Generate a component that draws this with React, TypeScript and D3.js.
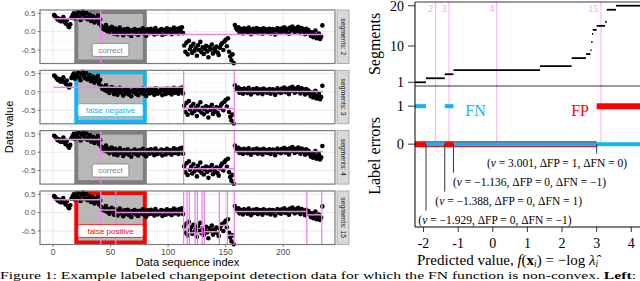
import * as d3 from "d3";

// observed data (same sequence in every facet), index 1..234
const dataValues = [
  0.45, 0.42, 0.38, 0.33, 0.36, 0.30, 0.28, 0.34, 0.40, 0.27,
  0.22, 0.31, 0.17, 0.12, 0.20, 0.38, 0.44, 0.50, 0.36, 0.41,
  0.47, 0.53, 0.39, 0.32, 0.49, 0.55, 0.43, 0.37, 0.51, 0.34,
  0.40, 0.46, 0.29, 0.35, 0.42, 0.25, 0.38, 0.31, 0.44, 0.22,
  0.33,
  0.15, 0.08, 0.12, 0.05, 0.18, 0.02, 0.10, -0.03, 0.07, 0.13,
  0.04, -0.06, 0.09, 0.01, -0.08, 0.05, 0.11, -0.02, 0.03, -0.10,
  0.06, -0.04, 0.00, 0.08, -0.07, 0.02, -0.12, 0.04, -0.01, 0.07,
  -0.05, 0.03, -0.09, 0.05, 0.01, -0.03, 0.09, -0.06, 0.02, -0.11,
  0.06, 0.00, -0.04, 0.08, -0.02, 0.04, -0.08, 0.10, 0.01, -0.05,
  0.03, -0.01, 0.07, -0.09, 0.05, 0.02, -0.06, 0.09, 0.00, -0.03,
  0.06, -0.07, 0.04, 0.11, -0.02, 0.08, 0.01, -0.05, 0.10, 0.03,
  0.12, -0.04,
  -0.38, -0.55, -0.30, -0.62, -0.25, -0.48, -0.40, -0.58, -0.33, -0.52,
  -0.45, -0.66, -0.37, -0.50, -0.28, -0.56, -0.43, -0.61, -0.47, -0.39,
  -0.54, -0.70, -0.42, -0.49, -0.35, -0.60, -0.46, -0.53, -0.41, -0.57,
  -0.64, -0.44, -0.36, -0.31, -0.50, -0.27, -0.22, -0.40, -0.18, -0.55,
  -0.68, -0.78, -0.62, -0.86,
  0.18, 0.10, 0.05, 0.12, -0.02, 0.08, 0.03, -0.05, 0.09, 0.01,
  0.06, -0.03, 0.11, 0.04, -0.07, 0.02, 0.08, -0.01, 0.05, 0.10,
  -0.04, 0.03, 0.07, 0.00, -0.06, 0.09, 0.02, 0.06, -0.02, 0.04,
  0.08, -0.05, 0.01, 0.07, 0.03, -0.08, 0.05, 0.10, 0.00, 0.06,
  -0.03, 0.09, 0.02, 0.12, -0.01, 0.04, 0.08, -0.06, 0.11, 0.03,
  0.14, 0.06, -0.02, 0.09, 0.01, 0.13, 0.05, -0.04, 0.10, 0.07,
  0.02, -0.07, 0.08, -0.03, 0.04,
  -0.05, -0.12, -0.02, -0.15, -0.08, 0.03, -0.18, -0.10, -0.05, -0.20, -0.14, 0.17,
];

// facets: model size, segment ends and segment means
const facetSegments = [2, 3, 4, 15];
const segmentEnds = [
  [41, 234],
  [113, 157, 234],
  [41, 113, 157, 234],
  [41, 54, 113, 116, 118, 123, 125, 129, 131, 144, 151, 157, 220, 233, 234],
];
const segmentMeans = [
  [0.35, -0.08],
  [0.13, -0.45, 0.01],
  [0.35, 0.02, -0.45, 0.02],
  [0.35, 0.07, 0.0, -0.45, -0.35, -0.55, -0.3, -0.55, -0.4, -0.52, -0.35, -0.62, 0.03, -0.06, 0.17],
];
const labelStatus = ["correct", "false negative", "correct", "false positive"];
const labelStart = 18.5;
const labelEnd = 81.5;
const xTicksLeft = [0, 50, 100, 150, 200];
const yTicksLeft = [0.5, 0, -0.5];

// right side: number of segments selected vs predicted value
const stepMin = [-2.247, -1.929, -1.388, -1.136, 1.363, 2.279, 2.692, 2.82, 2.845, 2.865, 2.886, 3.001, 3.241, 3.29, 3.559];
const stepMax = [-1.929, -1.388, -1.136, 1.363, 2.279, 2.692, 2.82, 2.845, 2.865, 2.886, 3.001, 3.241, 3.29, 3.559, 4.252];
const stepSegments = [1, 2, 3, 4, 5, 7, 8, 9, 11, 13, 14, 15, 16, 19, 20];

const fnMin = [-2.247, -1.929, -1.388, -1.136];
const fnMax = [-1.929, -1.388, -1.136, 4.252];
const fnValue = [1, 0, 1, 0];
const fpMin = [-2.247, 3.001];
const fpMax = [3.001, 4.252];
const fpValue = [0, 1];

const modelLinePos = [-1.65, -1.265, 0.113, 3.125];
const modelLineLabel = ["2", "3", "4", "15"];

const annV = [3.001, -1.136, -1.388, -1.929];
const annDFP = [1, 0, 0, 0];
const annDFN = [0, -1, 1, -1];
const annLabelX = [-0.17, -1.15, -1.66, -2.15];
const annLabelY = [-0.5, -1, -1.5, -2];

const xTicksRight = [-2, -1, 0, 1, 2, 3, 4];

const statusColor: Record<string, string> = {
  correct: "#7f7f7f",
  "false negative": "#12B5F2",
  "false positive": "#FF0000",
};
const VIOLET = "#EE82EE";
const FN_BLUE = "#12B5F2";
const SANS = "'Liberation Sans', Arial, sans-serif";
const SERIF = "'Liberation Serif', 'Times New Roman', serif";

const fmt = (n: number, d = 0) => (n < 0 ? "\u2212" : "") + Math.abs(n).toFixed(d);

export default function App() {
  const W = 640;
  const H = 281;

  // left facets
  const panelH = 53.5;
  const panelTops = [10, 70.3, 130.6, 191];
  const x = d3.scaleLinear().domain([-11.3, 245]).range([40, 335]);
  const y = d3.scaleLinear().domain([-0.87, 0.59]).range([panelH, 0]);

  // right panels
  const xr = d3.scaleLinear().domain([-2.247, 4.252]).range([415, 640]);
  const ys = d3.scaleLinear().domain([0.08, 20.92]).range([86, 2]);
  const ye = d3.scaleLinear().domain([-2.18, 1.53]).range([227, 86]);

  const points = dataValues.map((v, i) => ({ i: i + 1, v }));

  return (
    <svg width={W} height={H} style={{ position: "absolute", left: 0, top: 0 }}>
      <rect width={W} height={H} fill="#fff" />

      {panelTops.map((top, p) => {
        const ends = segmentEnds[p];
        const means = segmentMeans[p];
        const col = statusColor[labelStatus[p]];
        const lx0 = x(labelStart);
        const lx1 = x(labelEnd);
        const labelW = labelStatus[p].length * 4.1 + 8;
        return (
          <g key={p} transform={`translate(0,${top})`}>
            <rect x={40} y={0} width={295} height={panelH} fill="#fff" />
            {[25, 75, 125, 175, 225].map((t) => (
              <line key={"mx" + t} x1={x(t)} x2={x(t)} y1={0} y2={panelH} stroke="#f2f2f2" strokeWidth={0.5} />
            ))}
            {[0.25, -0.25, -0.75].map((t) => (
              <line key={"my" + t} x1={40} x2={335} y1={y(t)} y2={y(t)} stroke="#f2f2f2" strokeWidth={0.5} />
            ))}
            {xTicksLeft.map((t) => (
              <line key={"gx" + t} x1={x(t)} x2={x(t)} y1={0} y2={panelH} stroke="#e6e6e6" strokeWidth={0.9} />
            ))}
            {yTicksLeft.map((t) => (
              <line key={"gy" + t} x1={40} x2={335} y1={y(t)} y2={y(t)} stroke="#e6e6e6" strokeWidth={0.9} />
            ))}
            <rect
              x={lx0 + 2}
              y={2}
              width={lx1 - lx0 - 4}
              height={panelH - 4}
              fill="#b8b8b8"
              stroke={col}
              strokeWidth={4}
            />
            {points.map((d) => (
              <circle key={d.i} cx={x(d.i)} cy={y(d.v)} r={2.3} fill="#000" />
            ))}
            {ends.map((e, k) => {
              const s = k === 0 ? 0.5 : ends[k - 1] + 0.5;
              return (
                <line key={"s" + k} x1={x(s)} x2={x(e + 0.5)} y1={y(means[k])} y2={y(means[k])} stroke={VIOLET} strokeWidth={1.5} />
              );
            })}
            {ends.slice(0, -1).map((e) => (
              <line key={"c" + e} x1={x(e + 0.5)} x2={x(e + 0.5)} y1={0} y2={panelH} stroke={VIOLET} strokeWidth={1.3} />
            ))}
            <g transform={`translate(${(lx0 + lx1) / 2},${y(-0.5)})`}>
              <rect x={-labelW / 2} y={-6.5} width={labelW} height={13} rx={2} fill="#fff" stroke={col} strokeWidth={0.8} />
              <text textAnchor="middle" dy="0.35em" fontFamily={SANS} fontSize={8} fill={col}>
                {labelStatus[p]}
              </text>
            </g>
            <rect x={40} y={0} width={295} height={panelH} fill="none" stroke="#7a7a7a" strokeWidth={1.2} />
            {yTicksLeft.map((t) => (
              <g key={"ty" + t}>
                <line x1={37.5} x2={40} y1={y(t)} y2={y(t)} stroke="#333" strokeWidth={0.6} />
                <text x={35.5} y={y(t)} dy="0.35em" textAnchor="end" fontFamily={SANS} fontSize={8} fill="#4d4d4d">
                  {t.toFixed(1)}
                </text>
              </g>
            ))}
            <rect x={337} y={0} width={12} height={panelH} fill="#d9d9d9" stroke="#9e9e9e" strokeWidth={0.8} />
            <text
              transform={`translate(343,${panelH / 2}) rotate(90)`}
              textAnchor="middle"
              dy="0.35em"
              fontFamily={SANS}
              fontSize={6.8}
              fill="#1a1a1a"
            >
              {`segments: ${facetSegments[p]}`}
            </text>
          </g>
        );
      })}

      {xTicksLeft.map((t) => (
        <g key={"tx" + t}>
          <line x1={x(t)} x2={x(t)} y1={244.5} y2={247} stroke="#333" strokeWidth={0.6} />
          <text x={x(t)} y={255} textAnchor="middle" fontFamily={SANS} fontSize={8.5} fill="#4d4d4d">
            {t}
          </text>
        </g>
      ))}
      <text x={187.5} y={266} textAnchor="middle" fontFamily={SANS} fontSize={11} fill="#000">
        Data sequence index
      </text>
      <text transform="translate(13,127) rotate(-90)" textAnchor="middle" fontFamily={SANS} fontSize={11} fill="#000">
        Data value
      </text>

      {/* right: model selection lines */}
      {modelLinePos.map((v, k) => (
        <g key={"ml" + k}>
          <line x1={xr(v)} x2={xr(v)} y1={2} y2={ye(0)} stroke={VIOLET} strokeOpacity={0.65} strokeWidth={1} />
          <text x={xr(v) - 2.5} y={12} textAnchor="end" fontFamily={SERIF} fontSize={10.5} fill={VIOLET} fillOpacity={0.75}>
            {modelLineLabel[k]}
          </text>
        </g>
      ))}

      {/* segments step function */}
      {stepSegments.map((s, k) => (
        <line
          key={"st" + k}
          x1={xr(stepMin[k])}
          x2={Math.max(xr(stepMax[k]), xr(stepMin[k]) + 1.2)}
          y1={ys(s)}
          y2={ys(s)}
          stroke="#000"
          strokeWidth={1.8}
        />
      ))}

      {/* label errors */}
      {fpValue.map((v, k) => (
        <line key={"fp" + k} x1={xr(fpMin[k])} x2={xr(fpMax[k])} y1={ye(v)} y2={ye(v)} stroke="#FF0000" strokeWidth={6} />
      ))}
      {fnValue.map((v, k) => (
        <line key={"fn" + k} x1={xr(fnMin[k])} x2={xr(fnMax[k])} y1={ye(v)} y2={ye(v)} stroke={FN_BLUE} strokeWidth={4} />
      ))}
      <text x={xr(-0.5)} y={ye(1) + 10} textAnchor="middle" fontFamily={SERIF} fontSize={16} fill={FN_BLUE}>
        FN
      </text>
      <text x={xr(2.52)} y={ye(1) + 10} textAnchor="middle" fontFamily={SERIF} fontSize={16} fill="#FF0000">
        FP
      </text>

      {annV.map((v, k) => (
        <g key={"an" + k}>
          <line x1={xr(v)} x2={xr(v)} y1={ye(0)} y2={ye(annLabelY[k] + 0.25)} stroke="#333" strokeWidth={1} />
          <text x={xr(annLabelX[k])} y={ye(annLabelY[k])} dy="0.33em" fontFamily={SERIF} fontSize={11.5} fill="#000">
            (<tspan fontStyle="italic">v</tspan>
            {` = ${fmt(v, 3)}, \u0394FP = ${fmt(annDFP[k])}, \u0394FN = ${fmt(annDFN[k])})`}
          </text>
        </g>
      ))}

      {/* right frames and axes */}
      <line x1={415} x2={415} y1={2} y2={227} stroke="#000" strokeWidth={1} />
      <line x1={415} x2={640} y1={2} y2={2} stroke="#000" strokeWidth={0.8} />
      <line x1={415} x2={640} y1={86} y2={86} stroke="#000" strokeWidth={0.8} />
      <line x1={415} x2={640} y1={227} y2={227} stroke="#000" strokeWidth={1} />
      {[1, 10, 20].map((t) => (
        <g key={"ts" + t}>
          <line x1={408} x2={415} y1={ys(t)} y2={ys(t)} stroke="#000" strokeWidth={0.8} />
          <text x={404} y={ys(t)} dy="0.35em" textAnchor="end" fontFamily={SERIF} fontSize={14}>
            {t}
          </text>
        </g>
      ))}
      {[0, 1].map((t) => (
        <g key={"te" + t}>
          <line x1={408} x2={415} y1={ye(t)} y2={ye(t)} stroke="#000" strokeWidth={0.8} />
          <text x={404} y={ye(t)} dy="0.35em" textAnchor="end" fontFamily={SERIF} fontSize={14.5}>
            {t}
          </text>
        </g>
      ))}
      {xTicksRight.map((t) => (
        <g key={"tr" + t}>
          <line x1={xr(t)} x2={xr(t)} y1={227} y2={232} stroke="#000" strokeWidth={0.8} />
          <text x={xr(t)} y={247.5} textAnchor="middle" fontFamily={SERIF} fontSize={14}>
            {t < 0 ? `-${-t}` : t}
          </text>
        </g>
      ))}
      <text transform="translate(380,44) rotate(-90)" textAnchor="middle" fontFamily={SERIF} fontSize={16}>
        Segments
      </text>
      <text transform="translate(380,156) rotate(-90)" textAnchor="middle" fontFamily={SERIF} fontSize={16}>
        Label errors
      </text>
      <text x={417} y={264.5} fontFamily={SERIF} fontSize={15}>
        Predicted value,{" "}
        <tspan fontStyle="italic">f</tspan>(<tspan fontWeight="bold">x</tspan>
        <tspan fontStyle="italic" fontSize={9.5} dy={2.5}>i</tspan>
        <tspan dy={-2.5}>) = {"\u2212"}log </tspan>
        <tspan fontStyle="italic">{"\u03BB\u0302"}</tspan>
        <tspan fontStyle="italic" fontSize={9.5} dy={2.5}>i</tspan>
      </text>

      <text x={0} y={279} fontFamily={SERIF} fontSize={10.5} textLength={636} lengthAdjust="spacingAndGlyphs">
        Figure 1: Example labeled changepoint detection data for which the FN function is non-convex. <tspan fontWeight="bold">Left</tspan>:
      </text>
    </svg>
  );
}
